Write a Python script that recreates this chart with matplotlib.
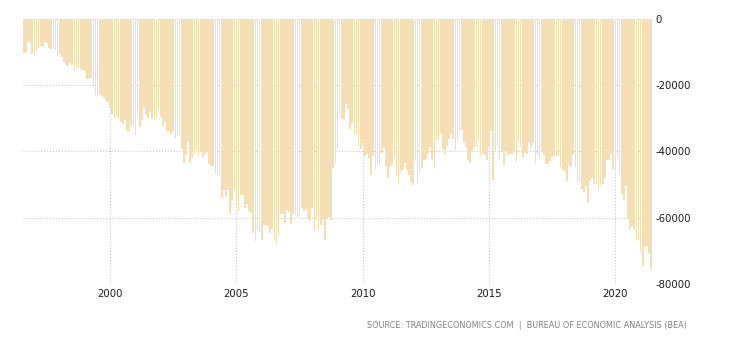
import pandas as pd
import matplotlib
matplotlib.use("Agg")
import matplotlib.pyplot as plt

plt.rcParams['axes.unicode_minus'] = False

# US balance of trade, monthly, USD million (Aug 1996 - Jun 2021)
first_month = '1996-08-01'
balance = [
    -10200, -10200, -6700, -7200, -10500,                                                  # 1996
    -11000, -9600, -8400, -8100, -8400, -7000, -7100, -8700, -9200, -9000, -9400, -11100,     # 1997
    -10700, -11500, -12900, -13900, -14100, -13300, -13900, -16000, -14800, -14800, -15200, -15400,  # 1998
    -15800, -18100, -17700, -17900, -20200, -23000, -23200, -22900, -23100, -23700, -24700, -25100,  # 1999
    -26600, -28600, -29900, -29500, -30200, -31000, -31800, -30600, -33800, -33800, -32000, -32000,  # 2000
    -35000, -29300, -32700, -30400, -26900, -29100, -29900, -28100, -30100, -30500, -30000, -27500,  # 2001
    -29700, -32300, -31200, -33800, -33800, -34700, -33800, -36100, -35600, -35000, -39400, -43500,  # 2002
    -41000, -36800, -43500, -42000, -40900, -39700, -41100, -40000, -41700, -40900, -40200, -43900,  # 2003
    -44400, -44400, -46500, -47100, -47400, -54100, -51600, -53500, -51500, -58500, -54800, -51700,  # 2004
    -55800, -58100, -53000, -53000, -57000, -56000, -58000, -58500, -64700, -67100, -63900, -64400,  # 2005
    -66700, -62100, -62100, -62400, -64700, -63400, -66700, -67900, -65100, -58900, -58800, -61700,  # 2006
    -57800, -58400, -61900, -58800, -59000, -59900, -59900, -57200, -57900, -57400, -60400, -61000,  # 2007
    -57000, -64000, -60200, -63500, -62100, -60800, -66800, -60500, -59800, -60600, -45000, -43800,  # 2008
    -39300, -28800, -30100, -30100, -25700, -27300, -33100, -31400, -35000, -34800, -38300, -39300,  # 2009
    -37400, -41400, -40900, -41900, -47000, -41400, -45200, -44000, -44200, -40500, -38600, -44300,  # 2010
    -47900, -44700, -44200, -41700, -47400, -49500, -46000, -45700, -43400, -45700, -47000, -49200,  # 2011
    -50000, -42800, -49500, -46500, -45000, -42700, -42200, -40500, -38800, -42200, -45000, -36400,  # 2012
    -36400, -34400, -39200, -40900, -38300, -36100, -34600, -36300, -39900, -36200, -33600, -33600,  # 2013
    -37100, -38600, -42700, -43500, -40200, -38600, -38600, -36900, -41300, -40700, -41000, -42500,  # 2014
    -38600, -33900, -48700, -40200, -38300, -42200, -40200, -44000, -40000, -41200, -40700, -40900,  # 2015
    -39900, -43200, -36900, -38600, -41700, -40400, -40900, -37100, -38600, -37400, -43700, -41000,  # 2016
    -42400, -40200, -41200, -43900, -43700, -43000, -41700, -41300, -41500, -41300, -44700, -45700,  # 2017
    -46200, -48900, -44200, -44700, -41200, -44700, -49200, -49300, -51300, -52300, -50300, -55600,  # 2018
    -48900, -47900, -49700, -49900, -51600, -50300, -49700, -47900, -42700, -42500, -40900, -45200,  # 2019
    -45400, -41500, -46700, -52800, -54600, -50500, -60300, -63400, -62500, -63400, -66900, -66400,  # 2020
    -70300, -74500, -68900, -68700, -70600, -75500,                                          # 2021
]
label_years = [2000, 2005, 2010, 2015, 2020]
y_ticks = [0, -20000, -40000, -60000, -80000]

months = pd.date_range(first_month, periods=len(balance), freq='MS')
x = list(range(len(balance)))
tick_pos = [i for i, m in enumerate(months) if m.month == 1 and m.year in label_years]

fig = plt.figure(figsize=(7.3, 3.4), dpi=100)
ax = fig.add_axes([0.031, 0.165, 0.863, 0.779])

ax.bar(x, balance, width=0.8, color='#f5deb3', antialiased=False, zorder=2)

ax.set_xlim(-0.6, len(balance) - 0.3)
ax.set_ylim(-80000, 0)
ax.set_xticks(tick_pos)
ax.set_xticklabels([str(y) for y in label_years])
ax.set_yticks(y_ticks)
ax.set_yticklabels([str(v) for v in y_ticks])
ax.yaxis.tick_right()
ax.tick_params(axis='both', length=0, labelsize=7.3, colors='#1a1a1a')
ax.tick_params(axis='x', pad=4)
ax.tick_params(axis='y', pad=2)

ax.grid(True, color='#c8c8c8', linestyle=':', linewidth=0.8, zorder=0)
ax.set_axisbelow(True)
for s in ax.spines.values():
    s.set_visible(False)

fig.text(0.941, 0.044, 'SOURCE: TRADINGECONOMICS.COM  |  BUREAU OF ECONOMIC ANALYSIS (BEA)',
         ha='right', va='center', fontsize=5.9, color='#808080')

fig.savefig('out.png', dpi=100)
